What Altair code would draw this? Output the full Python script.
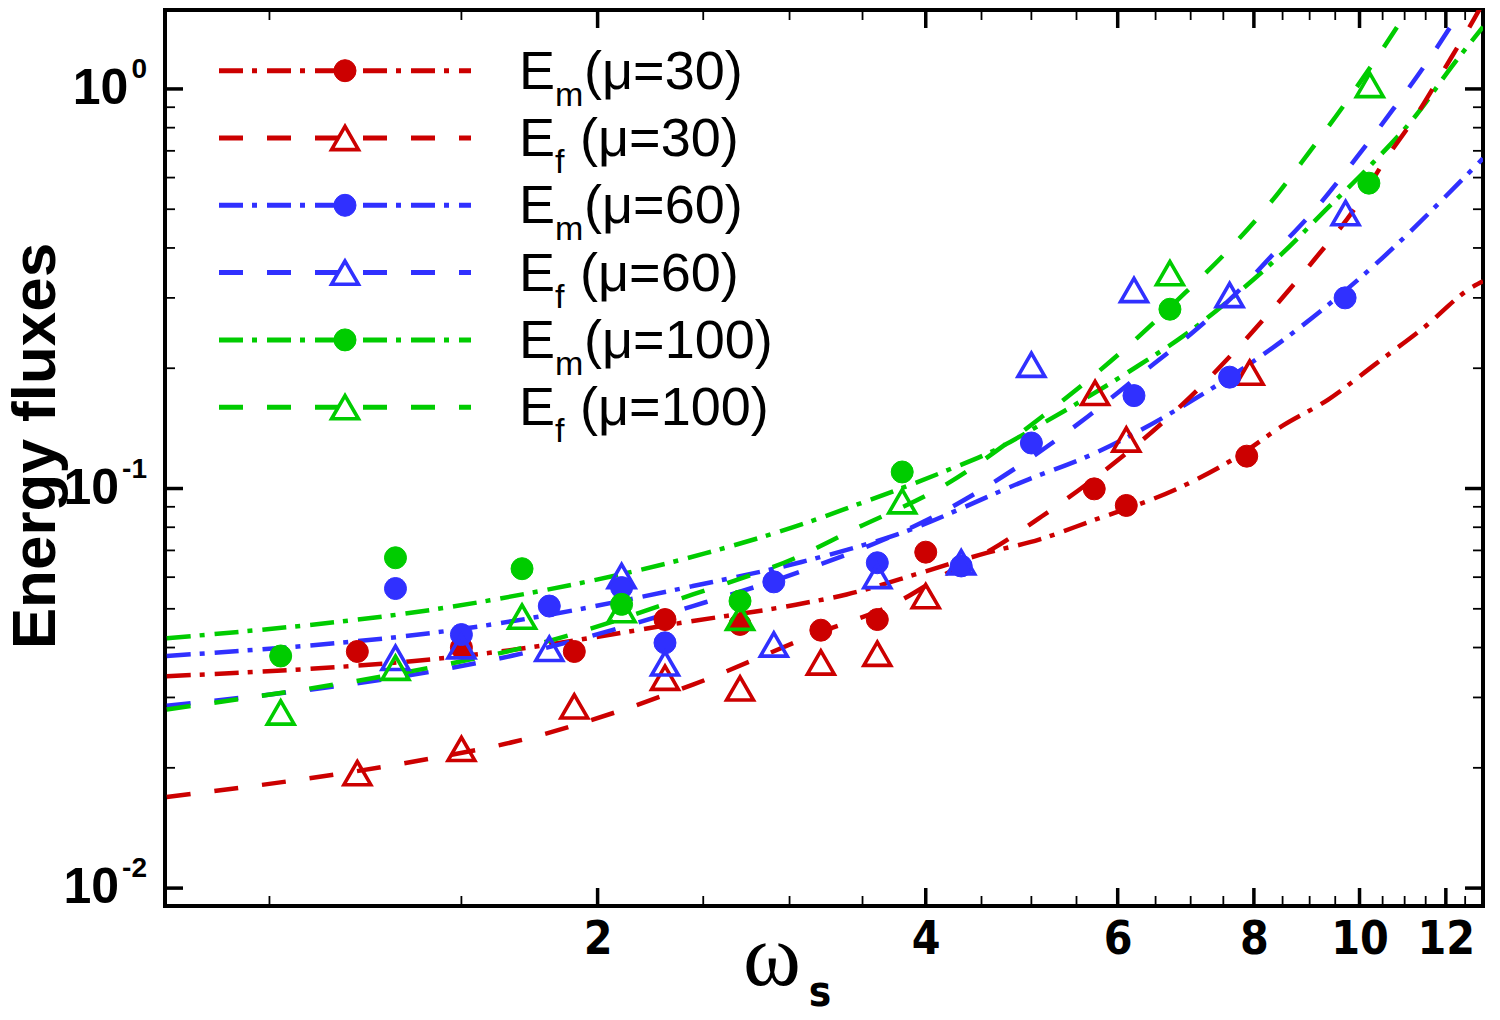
import altair as alt
import pandas as pd

W, H = 1318, 896          # plot area in px
X_DOM = [0.802, 12.98]
Y_DOM = [0.00902, 1.576]

RED, BLUE, GREEN = "#CC0000", "#3030FF", "#00CC00"

# ---------------- measured energy fluxes ----------------
em30_x = [1.204, 1.50, 1.904, 2.306, 2.702, 3.205, 3.611, 4.0, 5.71, 6.11, 7.88]
em30_y = [0.0391, 0.0400, 0.0391, 0.0470, 0.0457, 0.0442, 0.0470, 0.0693, 0.0998, 0.0907, 0.1205]
ef30_x = [1.204, 1.50, 1.904, 2.306, 2.702, 3.205, 3.611, 4.0, 5.72, 6.11, 7.93]
ef30_y = [0.0194, 0.0223, 0.0285, 0.0336, 0.0316, 0.0367, 0.0386, 0.0538, 0.1735, 0.1326, 0.195]
em60_x = [1.305, 1.50, 1.806, 2.104, 2.306, 2.902, 3.611, 4.311, 5.0, 6.21, 7.6, 9.7]
em60_y = [0.0562, 0.0431, 0.0508, 0.0565, 0.0411, 0.0584, 0.0652, 0.0640, 0.130, 0.1708, 0.190, 0.300]
ef60_x = [1.305, 1.50, 1.806, 2.104, 2.306, 2.902, 3.611, 4.311, 5.0, 6.21, 7.6, 9.71]
ef60_y = [0.0377, 0.0403, 0.0397, 0.0604, 0.0365, 0.0407, 0.0604, 0.0654, 0.204, 0.314, 0.305, 0.489]
em100_x = [1.024, 1.305, 1.705, 2.104, 2.702, 3.806, 6.70, 10.2]
em100_y = [0.0381, 0.0671, 0.0630, 0.0513, 0.0523, 0.110, 0.281, 0.581]
ef100_x = [1.024, 1.305, 1.705, 2.104, 2.702, 3.806, 6.70, 10.22]
ef100_y = [0.0275, 0.0356, 0.0478, 0.0496, 0.0475, 0.0929, 0.346, 1.023]

# ---------------- fitted curves ----------------
fm30_x = [0.805, 1.593, 2.446, 3.04, 3.384, 3.979, 4.55, 5.09, 5.618, 6.917, 7.74, 8.48, 9.36, 10.37, 11.44, 12.72, 12.98]
fm30_y = [0.0339, 0.0388, 0.0466, 0.0512, 0.0543, 0.0618, 0.0690, 0.0746, 0.0821, 0.102, 0.1205, 0.143, 0.167, 0.206, 0.252, 0.3206, 0.330]
ff30_x = [0.805, 1.365, 1.673, 2.446, 3.165, 3.761, 4.166, 4.598, 5.109, 5.646, 6.917, 7.633, 8.363, 9.103, 9.904, 10.51, 11.28, 12.0, 12.72, 12.98]
ff30_y = [0.0169, 0.0208, 0.0232, 0.0323, 0.0432, 0.0518, 0.0610, 0.0704, 0.0851, 0.1035, 0.1647, 0.2163, 0.2856, 0.3758, 0.503, 0.652, 0.861, 1.137, 1.487, 1.64]
fm60_x = [0.805, 1.593, 2.446, 3.077, 3.761, 4.965, 5.638, 6.917, 8.48, 10.33, 12.55, 12.98]
fm60_y = [0.0381, 0.0456, 0.0570, 0.0655, 0.0767, 0.1053, 0.1205, 0.162, 0.2335, 0.363, 0.610, 0.670]
ff60_x = [0.805, 1.504, 1.673, 2.446, 3.077, 4.166, 5.638, 6.25, 6.92, 7.63, 8.39, 9.18, 9.94, 10.74, 11.54, 12.27, 12.6]
ff60_y = [0.0286, 0.0360, 0.0382, 0.0508, 0.0621, 0.088, 0.1517, 0.190, 0.237, 0.300, 0.3936, 0.513, 0.674, 0.891, 1.17, 1.51, 1.70]
fm100_x = [0.805, 1.593, 2.509, 3.077, 3.40, 4.166, 4.6, 5.109, 6.25, 6.92, 7.67, 8.48, 9.31, 10.28, 11.26, 12.15, 12.98]
fm100_y = [0.0422, 0.0525, 0.0688, 0.0813, 0.0896, 0.1105, 0.1238, 0.145, 0.202, 0.2427, 0.303, 0.386, 0.498, 0.652, 0.857, 1.137, 1.43]
ff100_x = [0.805, 1.504, 1.673, 2.446, 3.077, 3.40, 4.166, 5.109, 6.25, 6.92, 7.6, 8.304, 8.99, 9.68, 10.40, 11.0, 11.3]
ff100_y = [0.0280, 0.0370, 0.0394, 0.0543, 0.0681, 0.0779, 0.102, 0.151, 0.238, 0.309, 0.398, 0.523, 0.694, 0.912, 1.21, 1.53, 1.72]

# series: (id, subscript, mu, colour, marker, dash, points x/y, fit x/y)
SERIES = [
    ("Em30", "m", "30", RED, "circle", "dd", em30_x, em30_y, fm30_x, fm30_y),
    ("Ef30", "f", "30", RED, "triangle", "d", ef30_x, ef30_y, ff30_x, ff30_y),
    ("Em60", "m", "60", BLUE, "circle", "dd", em60_x, em60_y, fm60_x, fm60_y),
    ("Ef60", "f", "60", BLUE, "triangle", "d", ef60_x, ef60_y, ff60_x, ff60_y),
    ("Em100", "m", "100", GREEN, "circle", "dd", em100_x, em100_y, fm100_x, fm100_y),
    ("Ef100", "f", "100", GREEN, "triangle", "d", ef100_x, ef100_y, ff100_x, ff100_y),
]

DASHES = {"dd": [24, 9, 5, 10], "d": [24, 24]}
CIRCLE = dict(shape="circle", size=484, sw=1.0)
TRI = dict(shape="triangle-up", size=720, sw=3.6)

SANS = "Liberation Sans, Arial"
NARROW = "Liberation Sans Narrow, DejaVu Sans Condensed, Arial"

xs = alt.Scale(type="log", domain=X_DOM, nice=False)
ys = alt.Scale(type="log", domain=Y_DOM, nice=False)

x_axis = alt.Axis(values=[2, 4, 6, 8, 10, 12], format="d", title=None, domain=False, ticks=False,
                  grid=False, labelPadding=11, labelFont=NARROW, labelFontWeight="bold",
                  labelFontSize=46, labelColor="black", labelFlush=False, labelOverlap=False)


def X(field):
    return alt.X(field, scale=xs, axis=x_axis)


def Y(field):
    return alt.Y(field, scale=ys, axis=None)


layers = []

# ---------------- inward ticks on all four sides ----------------
x_major = [2, 4, 6, 8, 10, 12]
x_minor = [1, 1.5, 2.5, 3, 3.5, 4.5, 5, 5.5, 6.5, 7, 7.5, 8.5, 9, 9.5, 10.5, 11, 11.5, 12.5]
y_major = [0.01, 0.1, 1]
y_minor = [0.02, 0.03, 0.04, 0.05, 0.06, 0.07, 0.08, 0.09, 0.2, 0.3, 0.4, 0.5, 0.6, 0.7, 0.8, 0.9]

MAJ_LEN, MIN_LEN = 18, 10
for vals, ln, sw in [(x_major, MAJ_LEN, 3.5), (x_minor, MIN_LEN, 1.8)]:
    d = pd.DataFrame({"v": vals})
    layers.append(alt.Chart(d).mark_rule(color="black", strokeWidth=sw).encode(
        x=X("v:Q"), y=alt.value(H), y2=alt.value(H - ln)))
    layers.append(alt.Chart(d).mark_rule(color="black", strokeWidth=sw).encode(
        x=X("v:Q"), y=alt.value(0), y2=alt.value(ln)))
for vals, ln, sw in [(y_major, MAJ_LEN, 3.5), (y_minor, MIN_LEN, 1.8)]:
    d = pd.DataFrame({"v": vals})
    layers.append(alt.Chart(d).mark_rule(color="black", strokeWidth=sw).encode(
        y=Y("v:Q"), x=alt.value(0), x2=alt.value(ln)))
    layers.append(alt.Chart(d).mark_rule(color="black", strokeWidth=sw).encode(
        y=Y("v:Q"), x=alt.value(W), x2=alt.value(W - ln)))

# ---------------- fitted curves and measured points ----------------
line_rows, pt_rows = [], []
for sid, sub, mu, col, mk, dash, px, py, fx, fy in SERIES:
    for i, (a, b) in enumerate(zip(fx, fy)):
        line_rows.append(dict(sid=sid, x=a, y=b, col=col, dash=dash, o=i))
    st = CIRCLE if mk == "circle" else TRI
    for a, b in zip(px, py):
        pt_rows.append(dict(x=a, y=b, shape=st["shape"], size=st["size"], sw=st["sw"],
                            stroke=col, fill=col if mk == "circle" else "transparent"))

lines_df = pd.DataFrame(line_rows)
pts_df = pd.DataFrame(pt_rows)

for dash in ["dd", "d"]:
    layers.append(alt.Chart(lines_df[lines_df["dash"] == dash]).mark_line(
        clip=True, strokeWidth=4.5, interpolate="monotone", strokeDash=DASHES[dash]).encode(
        x=X("x:Q"),
        y=Y("y:Q"),
        color=alt.Color("col:N", scale=None),
        detail="sid:N",
        order="o:Q",
    ))

layers.append(alt.Chart(pts_df).mark_point(clip=True, opacity=1).encode(
    x=X("x:Q"),
    y=Y("y:Q"),
    shape=alt.Shape("shape:N", scale=None),
    size=alt.Size("size:Q", scale=None),
    strokeWidth=alt.StrokeWidth("sw:Q", scale=None),
    stroke=alt.Stroke("stroke:N", scale=None),
    fill=alt.Fill("fill:N", scale=None),
))

# ---------------- y tick labels 10^n ----------------
y_lab_val = [1, 0.1, 0.01]
y_lab_exp = ["0", "-1", "-2"]
y_lab_w = [15.6, 25.0, 25.0]
for v, e, w in zip(y_lab_val, y_lab_exp, y_lab_w):
    d = pd.DataFrame({"v": [v], "b": ["10"], "e": [e]})
    layers.append(alt.Chart(d).mark_text(font=SANS, fontWeight="bold", fontSize=50, align="right",
                                         baseline="middle", color="black").encode(
        y=Y("v:Q"), x=alt.value(-18 - w - 3), text="b:N"))
    layers.append(alt.Chart(d).mark_text(font=SANS, fontWeight="bold", fontSize=28, align="right",
                                         baseline="middle", dy=-19, color="black").encode(
        y=Y("v:Q"), x=alt.value(-18), text="e:N"))

# ---------------- axis titles ----------------
layers.append(alt.Chart(pd.DataFrame({"t": ["Energy fluxes"]})).mark_text(
    font=SANS, fontWeight="bold", fontSize=62, angle=270, align="center", baseline="alphabetic",
    color="black").encode(x=alt.value(-110), y=alt.value(436), text="t:N"))
layers.append(alt.Chart(pd.DataFrame({"t": ["ω"]})).mark_text(
    font="Liberation Serif, DejaVu Serif", fontSize=88, align="center", baseline="alphabetic",
    color="black").encode(x=alt.value(607), y=alt.value(975), text="t:N"))
layers.append(alt.Chart(pd.DataFrame({"t": ["s"]})).mark_text(
    font=NARROW, fontWeight="bold", fontSize=42, align="center", baseline="alphabetic",
    color="black").encode(x=alt.value(655), y=alt.value(996), text="t:N"))

# ---------------- legend ----------------
LEG_Y0, LEG_DY = 60.7, 67.3
for k, (sid, sub, mu, col, mk, dash, *_rest) in enumerate(SERIES):
    ly = LEG_Y0 + k * LEG_DY
    st = CIRCLE if mk == "circle" else TRI
    d = pd.DataFrame({"e": ["E"], "sub": [sub], "rest": ["(\u03bc=" + mu + ")"]})
    layers.append(alt.Chart(d).mark_rule(strokeWidth=5, strokeDash=DASHES[dash], color=col).encode(
        x=alt.value(54), x2=alt.value(306), y=alt.value(ly)))
    layers.append(alt.Chart(d).mark_point(
        opacity=1, shape=st["shape"], size=st["size"], strokeWidth=st["sw"], stroke=col,
        fill=col if mk == "circle" else "transparent").encode(x=alt.value(180), y=alt.value(ly)))
    layers.append(alt.Chart(d).mark_text(font=SANS, fontSize=54, align="left", baseline="alphabetic",
                                         color="black").encode(
        x=alt.value(354), y=alt.value(ly + 18), text="e:N"))
    layers.append(alt.Chart(d).mark_text(font=SANS, fontSize=34, align="left", baseline="alphabetic",
                                         color="black").encode(
        x=alt.value(390), y=alt.value(ly + 35), text="sub:N"))
    layers.append(alt.Chart(d).mark_text(font=SANS, fontSize=54, align="left", baseline="alphabetic",
                                         color="black").encode(
        x=alt.value(419 if sub == "m" else 415), y=alt.value(ly + 18), text="rest:N"))

chart = alt.layer(*layers).properties(
    width=W, height=H,
    padding={"left": 165, "top": 10, "right": 17, "bottom": 114},
    autosize=alt.AutoSizeParams(type="none"),
).configure(
    background="white",
    view=alt.ViewConfig(stroke="black", strokeWidth=4),
)

chart.save("out.html", embed_options={"renderer": "svg", "actions": False})
